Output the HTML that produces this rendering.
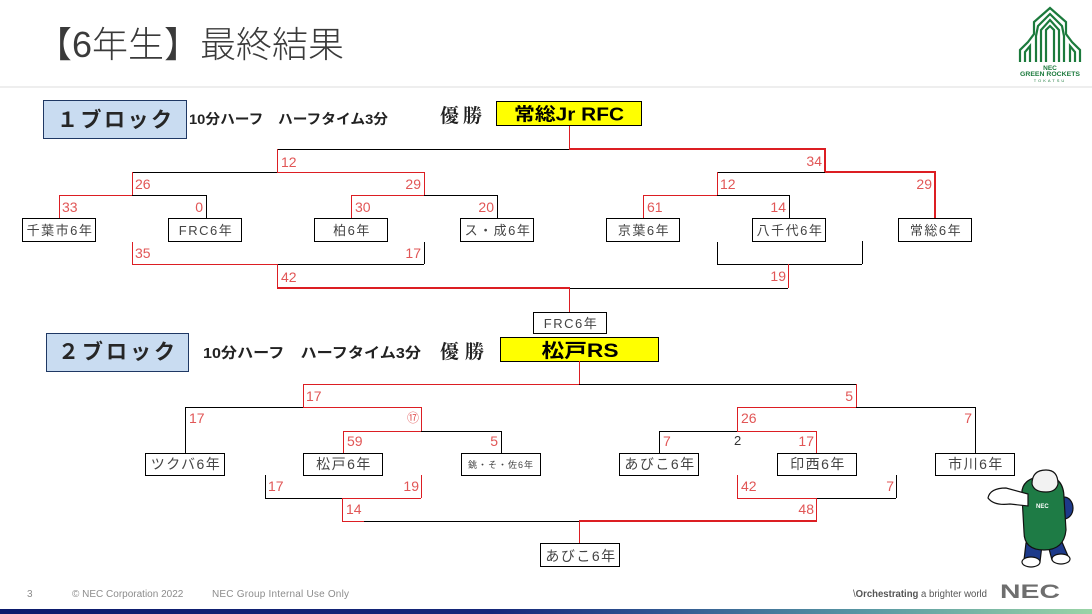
<!DOCTYPE html>
<html><head><meta charset="utf-8">
<style>
html,body{margin:0;padding:0;background:#fff;}
svg{display:block;}
.jp{font-family:"Liberation Sans","Noto Sans CJK JP",sans-serif;}
.sc{font-family:"Liberation Sans","Noto Sans CJK JP",sans-serif;font-size:14px;fill:#e15656;}
.tm{font-family:"Liberation Sans","Noto Sans CJK JP",sans-serif;fill:#444;}
</style></head>
<body>
<svg width="1092" height="614" viewBox="0 0 1092 614" xmlns="http://www.w3.org/2000/svg">
<defs>
<linearGradient id="bar" x1="0" x2="1" y1="0" y2="0">
<stop offset="0" stop-color="#0b1a6c"/>
<stop offset="0.45" stop-color="#15277a"/>
<stop offset="0.6" stop-color="#2f5591"/>
<stop offset="0.8" stop-color="#5a9aa4"/>
<stop offset="1" stop-color="#9ad4a6"/>
</linearGradient>
</defs>
<rect width="1092" height="614" fill="#fff"/>

<!-- Title -->
<text x="36" y="57" class="jp" font-size="36" fill="#3a3a3a" font-weight="300">【6年生】最終結果</text>
<rect x="0" y="86.5" width="1092" height="1" fill="#dcdcdc"/>

<!-- Logo -->
<g fill="none" stroke="#1b7a3c" stroke-width="2.2" stroke-linejoin="miter">
<path d="M1020,62 L1020,50 L1028,42 L1034,34 L1034,22 L1050,8 L1066,22 L1066,34 L1072,42 L1080,50 L1080,62"/>
<path d="M1025,62 L1025,52 L1030,46 L1030,62"/>
<path d="M1075,62 L1075,52 L1070,46 L1070,62"/>
<path d="M1036,62 L1036,36 L1038,26 L1050,14 L1062,26 L1064,36 L1064,62"/>
<path d="M1041,62 L1041,30 L1050,20 L1059,30 L1059,62"/>
<path d="M1046,62 L1046,30 L1050,26 L1054,30 L1054,62"/>
</g>
<text x="1050" y="70" font-family="Liberation Sans" font-weight="bold" font-size="6.5" fill="#1b7a3c" text-anchor="middle">NEC</text>
<text x="1050" y="76" font-family="Liberation Sans" font-weight="bold" font-size="6.5" fill="#1b7a3c" text-anchor="middle" textLength="60" lengthAdjust="spacingAndGlyphs">GREEN ROCKETS</text>
<text x="1050" y="82" font-family="Liberation Sans" font-size="4" fill="#1b7a3c" text-anchor="middle" letter-spacing="2">TOKATSU</text>

<!-- ===== Block 1 header ===== -->
<rect x="43.5" y="100.5" width="143" height="38" fill="#c9dcf1" stroke="#1f3864" stroke-width="1"/>
<text x="57" y="127" class="jp" font-size="21" font-weight="bold" fill="#262626" textLength="115" lengthAdjust="spacing">１ブロック</text>
<text x="189" y="124" class="jp" font-size="14" font-weight="bold" fill="#222" textLength="199" lengthAdjust="spacingAndGlyphs">10分ハーフ　ハーフタイム3分</text>
<text x="440" y="122" font-family="'Noto Serif CJK SC','Noto Serif CJK JP',serif" font-size="19" font-weight="bold" fill="#222" textLength="42">優勝</text>
<rect x="496.5" y="101.5" width="145" height="24" fill="#ffff00" stroke="#000" stroke-width="1"/>
<text x="569" y="120.5" class="jp" font-size="18" font-weight="bold" fill="#000" text-anchor="middle" textLength="110" lengthAdjust="spacingAndGlyphs">常総Jr RFC</text>

<!-- Block 1 lines -->
<g fill="none" stroke-width="1" shape-rendering="crispEdges">
<path stroke="#000" d="M277,149.5H569 M132,172.5H277 M717,172.5H825 M132,195.5H206 M424,195.5H497 M717,195.5H789
M206.5,195V218 M497.5,195V218 M789.5,195V218
M277,264.5H424 M424.5,242V264 M569,288.5H788 M717,264.5H862 M717.5,242V264 M862.5,241V264"/>
<path stroke="#dc1e23" d="M569.5,126V149 M277.5,149V172 M277,172.5H424 M132.5,172V195 M424.5,172V195 M717.5,172V195
M59,195.5H132 M351,195.5H424 M643,195.5H717
M59.5,195V218 M351.5,195V218 M643.5,195V218
M132.5,242V264 M132,264.5H277 M277.5,264V288 M788.5,264V288 M569.5,288V312"/>
</g>
<g fill="none" stroke="#dc1e23" stroke-width="2" shape-rendering="crispEdges">
<path d="M569,149H826 M825,149V172 M825,172H936 M935,172V218 M277,288H570"/>
</g>

<!-- Block 1 team boxes -->
<g fill="#fff" stroke="#000" stroke-width="1" shape-rendering="crispEdges">
<rect x="22.5" y="218.5" width="73" height="23"/>
<rect x="168.5" y="218.5" width="73" height="23"/>
<rect x="314.5" y="218.5" width="73" height="23"/>
<rect x="460.5" y="218.5" width="73" height="23"/>
<rect x="606.5" y="218.5" width="73" height="23"/>
<rect x="752.5" y="218.5" width="73" height="23"/>
<rect x="898.5" y="218.5" width="73" height="23"/>
<rect x="533.5" y="312.5" width="73" height="21"/>
</g>
<g class="tm" font-size="13" text-anchor="middle" letter-spacing="1.5">
<text x="60" y="235">千葉市6年</text>
<text x="206" y="235">FRC6年</text>
<text x="352" y="235">柏6年</text>
<text x="498" y="235">ス・成6年</text>
<text x="644" y="235">京葉6年</text>
<text x="790" y="235">八千代6年</text>
<text x="936" y="235">常総6年</text>
<text x="571" y="328">FRC6年</text>
</g>

<!-- Block 1 scores -->
<g class="sc">
<text x="281" y="167">12</text>
<text x="822" y="166" text-anchor="end">34</text>
<text x="135" y="189">26</text>
<text x="421" y="189" text-anchor="end">29</text>
<text x="720" y="189">12</text>
<text x="932" y="189" text-anchor="end">29</text>
<text x="62" y="212">33</text>
<text x="203" y="212" text-anchor="end">0</text>
<text x="355" y="212">30</text>
<text x="494" y="212" text-anchor="end">20</text>
<text x="647" y="212">61</text>
<text x="786" y="212" text-anchor="end">14</text>
<text x="135" y="258">35</text>
<text x="421" y="258" text-anchor="end">17</text>
<text x="281" y="282">42</text>
<text x="786" y="281" text-anchor="end">19</text>
</g>

<!-- ===== Block 2 header ===== -->
<rect x="46.5" y="333.5" width="142" height="38" fill="#c9dcf1" stroke="#1f3864" stroke-width="1"/>
<text x="58" y="359" class="jp" font-size="21" font-weight="bold" fill="#262626" textLength="117" lengthAdjust="spacing">２ブロック</text>
<text x="203" y="358" class="jp" font-size="14.5" font-weight="bold" fill="#222" textLength="218" lengthAdjust="spacingAndGlyphs">10分ハーフ　ハーフタイム3分</text>
<text x="440" y="358" font-family="'Noto Serif CJK SC','Noto Serif CJK JP',serif" font-size="19" font-weight="bold" fill="#222" textLength="44">優勝</text>
<rect x="500.5" y="337.5" width="158" height="24" fill="#ffff00" stroke="#000" stroke-width="1"/>
<text x="580" y="357" class="jp" font-size="19" font-weight="bold" fill="#000" text-anchor="middle" textLength="77" lengthAdjust="spacingAndGlyphs">松戸RS</text>

<!-- Block 2 lines -->
<g fill="none" stroke-width="1" shape-rendering="crispEdges">
<path stroke="#000" d="M579,384.5H856 M185,407.5H303 M856,407.5H975 M185.5,407V453 M975.5,407V453
M421,431.5H501 M501.5,431V453 M659,431.5H737 M659.5,431V453
M265.5,475V498 M265,498.5H342 M364,521.5H579 M816,498.5H896 M896.5,475V498"/>
<path stroke="#dc1e23" d="M579.5,361V384 M303,384.5H579 M303.5,384V407 M856.5,384V407
M303,407.5H421 M737,407.5H856 M421.5,407V431 M737.5,407V431
M343,431.5H421 M343.5,431V453 M737,431.5H816 M816.5,431V453
M342,498.5H421 M421.5,475V498 M342.5,498V521 M342,521.5H364
M737,498.5H816 M737.5,475V498 M816.5,498V521 M579.5,521V543"/>
</g>
<g fill="none" stroke="#dc1e23" stroke-width="2" shape-rendering="crispEdges">
<path d="M579,521H817"/>
</g>

<!-- Block 2 team boxes -->
<g fill="#fff" stroke="#000" stroke-width="1" shape-rendering="crispEdges">
<rect x="145.5" y="453.5" width="79" height="22"/>
<rect x="303.5" y="453.5" width="79" height="22"/>
<rect x="461.5" y="453.5" width="79" height="22"/>
<rect x="619.5" y="453.5" width="79" height="22"/>
<rect x="777.5" y="453.5" width="79" height="22"/>
<rect x="935.5" y="453.5" width="79" height="22"/>
<rect x="540.5" y="543.5" width="79" height="23"/>
</g>
<g class="tm" font-size="14" text-anchor="middle" letter-spacing="1.5">
<text x="186" y="469">ツクバ6年</text>
<text x="344" y="469">松戸6年</text>
<text x="660" y="469">あびこ6年</text>
<text x="818" y="469">印西6年</text>
<text x="976" y="469">市川6年</text>
<text x="581" y="561">あびこ6年</text>
</g>
<text x="501" y="468" class="tm" font-size="9" text-anchor="middle" fill="#666" letter-spacing="1">銚・そ・佐6年</text>

<!-- Block 2 scores -->
<g class="sc">
<text x="306" y="401">17</text>
<text x="853" y="401" text-anchor="end">5</text>
<text x="189" y="423">17</text>
<text x="419" y="422" text-anchor="end" font-size="12">⑰</text>
<text x="741" y="423">26</text>
<text x="972" y="423" text-anchor="end">7</text>
<text x="347" y="446">59</text>
<text x="498" y="446" text-anchor="end">5</text>
<text x="663" y="446">7</text>
<text x="814" y="446" text-anchor="end">17</text>
<text x="268" y="491">17</text>
<text x="419" y="491" text-anchor="end">19</text>
<text x="346" y="514">14</text>
<text x="741" y="491">42</text>
<text x="894" y="491" text-anchor="end">7</text>
<text x="814" y="514" text-anchor="end">48</text>
</g>
<text x="734" y="445" font-family="Liberation Sans" font-size="13" fill="#333">2</text>

<!-- Mascot (approx) -->
<g stroke="#111" stroke-width="1.2">
<ellipse cx="1064" cy="508" rx="9" ry="11" fill="#1d3a8a"/>
<path d="M1026,543 L1024,560 Q1030,566 1040,562 L1042,545 Z" fill="#1d3a8a"/>
<path d="M1048,545 L1052,560 Q1062,564 1068,556 L1062,542 Z" fill="#1d3a8a"/>
<ellipse cx="1031" cy="562" rx="9" ry="5" fill="#fff"/>
<ellipse cx="1061" cy="559" rx="9" ry="5" fill="#fff"/>
<path d="M1022,496 Q1020,478 1044,476 Q1064,476 1064,498 L1066,530 Q1064,550 1044,550 Q1024,550 1024,532 Z" fill="#1e7b45"/>
<path d="M1032,484 Q1032,470 1046,470 Q1058,470 1058,484 Q1056,492 1046,492 Q1034,492 1032,484 Z" fill="#f2f2f2"/>
<path d="M1028,494 L1006,488 Q990,488 988,498 Q994,506 1010,504 L1028,506 Z" fill="#fff"/>
</g>
<text x="1036" y="508" font-family="Liberation Sans" font-size="6" font-weight="bold" fill="#fff">NEC</text>

<!-- Footer -->
<g font-family="Liberation Sans" font-size="10" fill="#8c8c8c">
<text x="27" y="597">3</text>
<text x="72" y="597">© NEC Corporation 2022</text>
<text x="212" y="597" textLength="137">NEC Group Internal Use Only</text>
</g>
<text x="853" y="597" font-family="Liberation Sans" font-size="10" fill="#555" textLength="134" lengthAdjust="spacingAndGlyphs">\<tspan font-weight="bold">Orchestrating</tspan> a brighter world</text>
<text x="1000" y="598" font-family="Liberation Sans" font-size="19" font-weight="bold" fill="#6e6e6e" textLength="60" lengthAdjust="spacingAndGlyphs">NEC</text>
<rect x="0" y="609" width="1092" height="5" fill="url(#bar)"/>
</svg>
</body></html>
